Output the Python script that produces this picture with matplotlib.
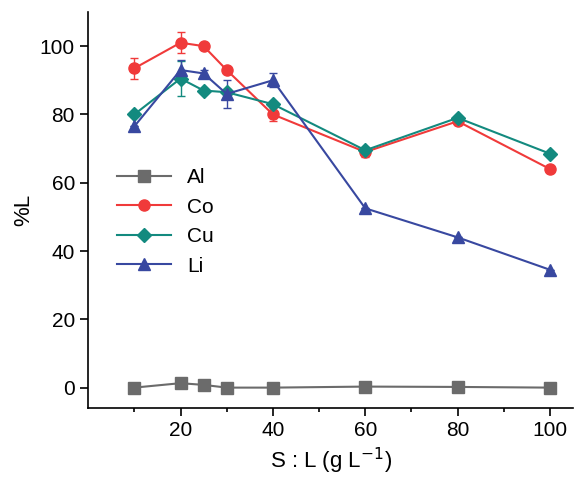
import matplotlib
matplotlib.use("Agg")
import matplotlib.pyplot as plt
from matplotlib.ticker import MultipleLocator, FixedLocator
from matplotlib.lines import Line2D

x = [10, 20, 25, 30, 40, 60, 80, 100]
al = [0, 1.3, 0.8, 0, 0, 0.3, 0.2, 0]
co = [93.5, 101, 100, 93, 80, 69, 78, 64]
cu = [80, 90.5, 87, 86.5, 83, 69.5, 79, 68.5]
li = [76.5, 93, 92, 86, 90, 52.5, 44, 34.5]
al_err = [0, 0.5, 0.3, 0, 0, 0, 0, 0]
co_err = [3, 3, 0, 1, 2, 1.5, 1, 0]
cu_err = [0, 5, 0, 1, 0, 0, 0, 0]
li_err = [0, 3, 1, 4, 2, 0, 0, 0]

plt.rcParams['font.family'] = ['Liberation Sans', 'DejaVu Sans']
fig, ax = plt.subplots(figsize=(5.76, 4.79), dpi=100)
fig.subplots_adjust(left=0.153, right=0.995, top=0.975, bottom=0.148)
series = [("Al", al, al_err, "#6b6b6b", "s"), ("Co", co, co_err, "#f03a3a", "o"),
          ("Cu", cu, cu_err, "#138a7f", "D"), ("Li", li, li_err, "#3848a0", "^")]
handles = []
for name, y, e, c, m in series:
    ms = 8 if m != "D" else 7
    ax.errorbar(x, y, yerr=e, color=c, marker=m, markersize=ms,
                lw=1.5, capsize=3, elinewidth=1)
    handles.append(Line2D([], [], color=c, marker=m, markersize=ms, lw=1.5, label=name))
ax.set_xlim(0, 105)
ax.set_ylim(-6, 110)
ax.xaxis.set_major_locator(FixedLocator([20, 40, 60, 80, 100]))
ax.xaxis.set_minor_locator(FixedLocator([10, 30, 50, 70, 90]))
ax.yaxis.set_major_locator(MultipleLocator(20))
ax.tick_params(which='both', direction='out', labelsize=15, width=1.2)
ax.tick_params(which='major', length=6)
ax.tick_params(which='minor', length=3)
for k in ['top', 'right']:
    ax.spines[k].set_visible(False)
for k in ['left', 'bottom']:
    ax.spines[k].set_linewidth(1.2)
ax.set_xlabel("S : L (g L$^{-1}$)", fontsize=16)
ax.set_ylabel("%L", fontsize=16)
ax.legend(handles=handles, loc='center left', bbox_to_anchor=(0.02, 0.47), frameon=False,
          fontsize=15, handlelength=2.6)
fig.savefig("out.png")
